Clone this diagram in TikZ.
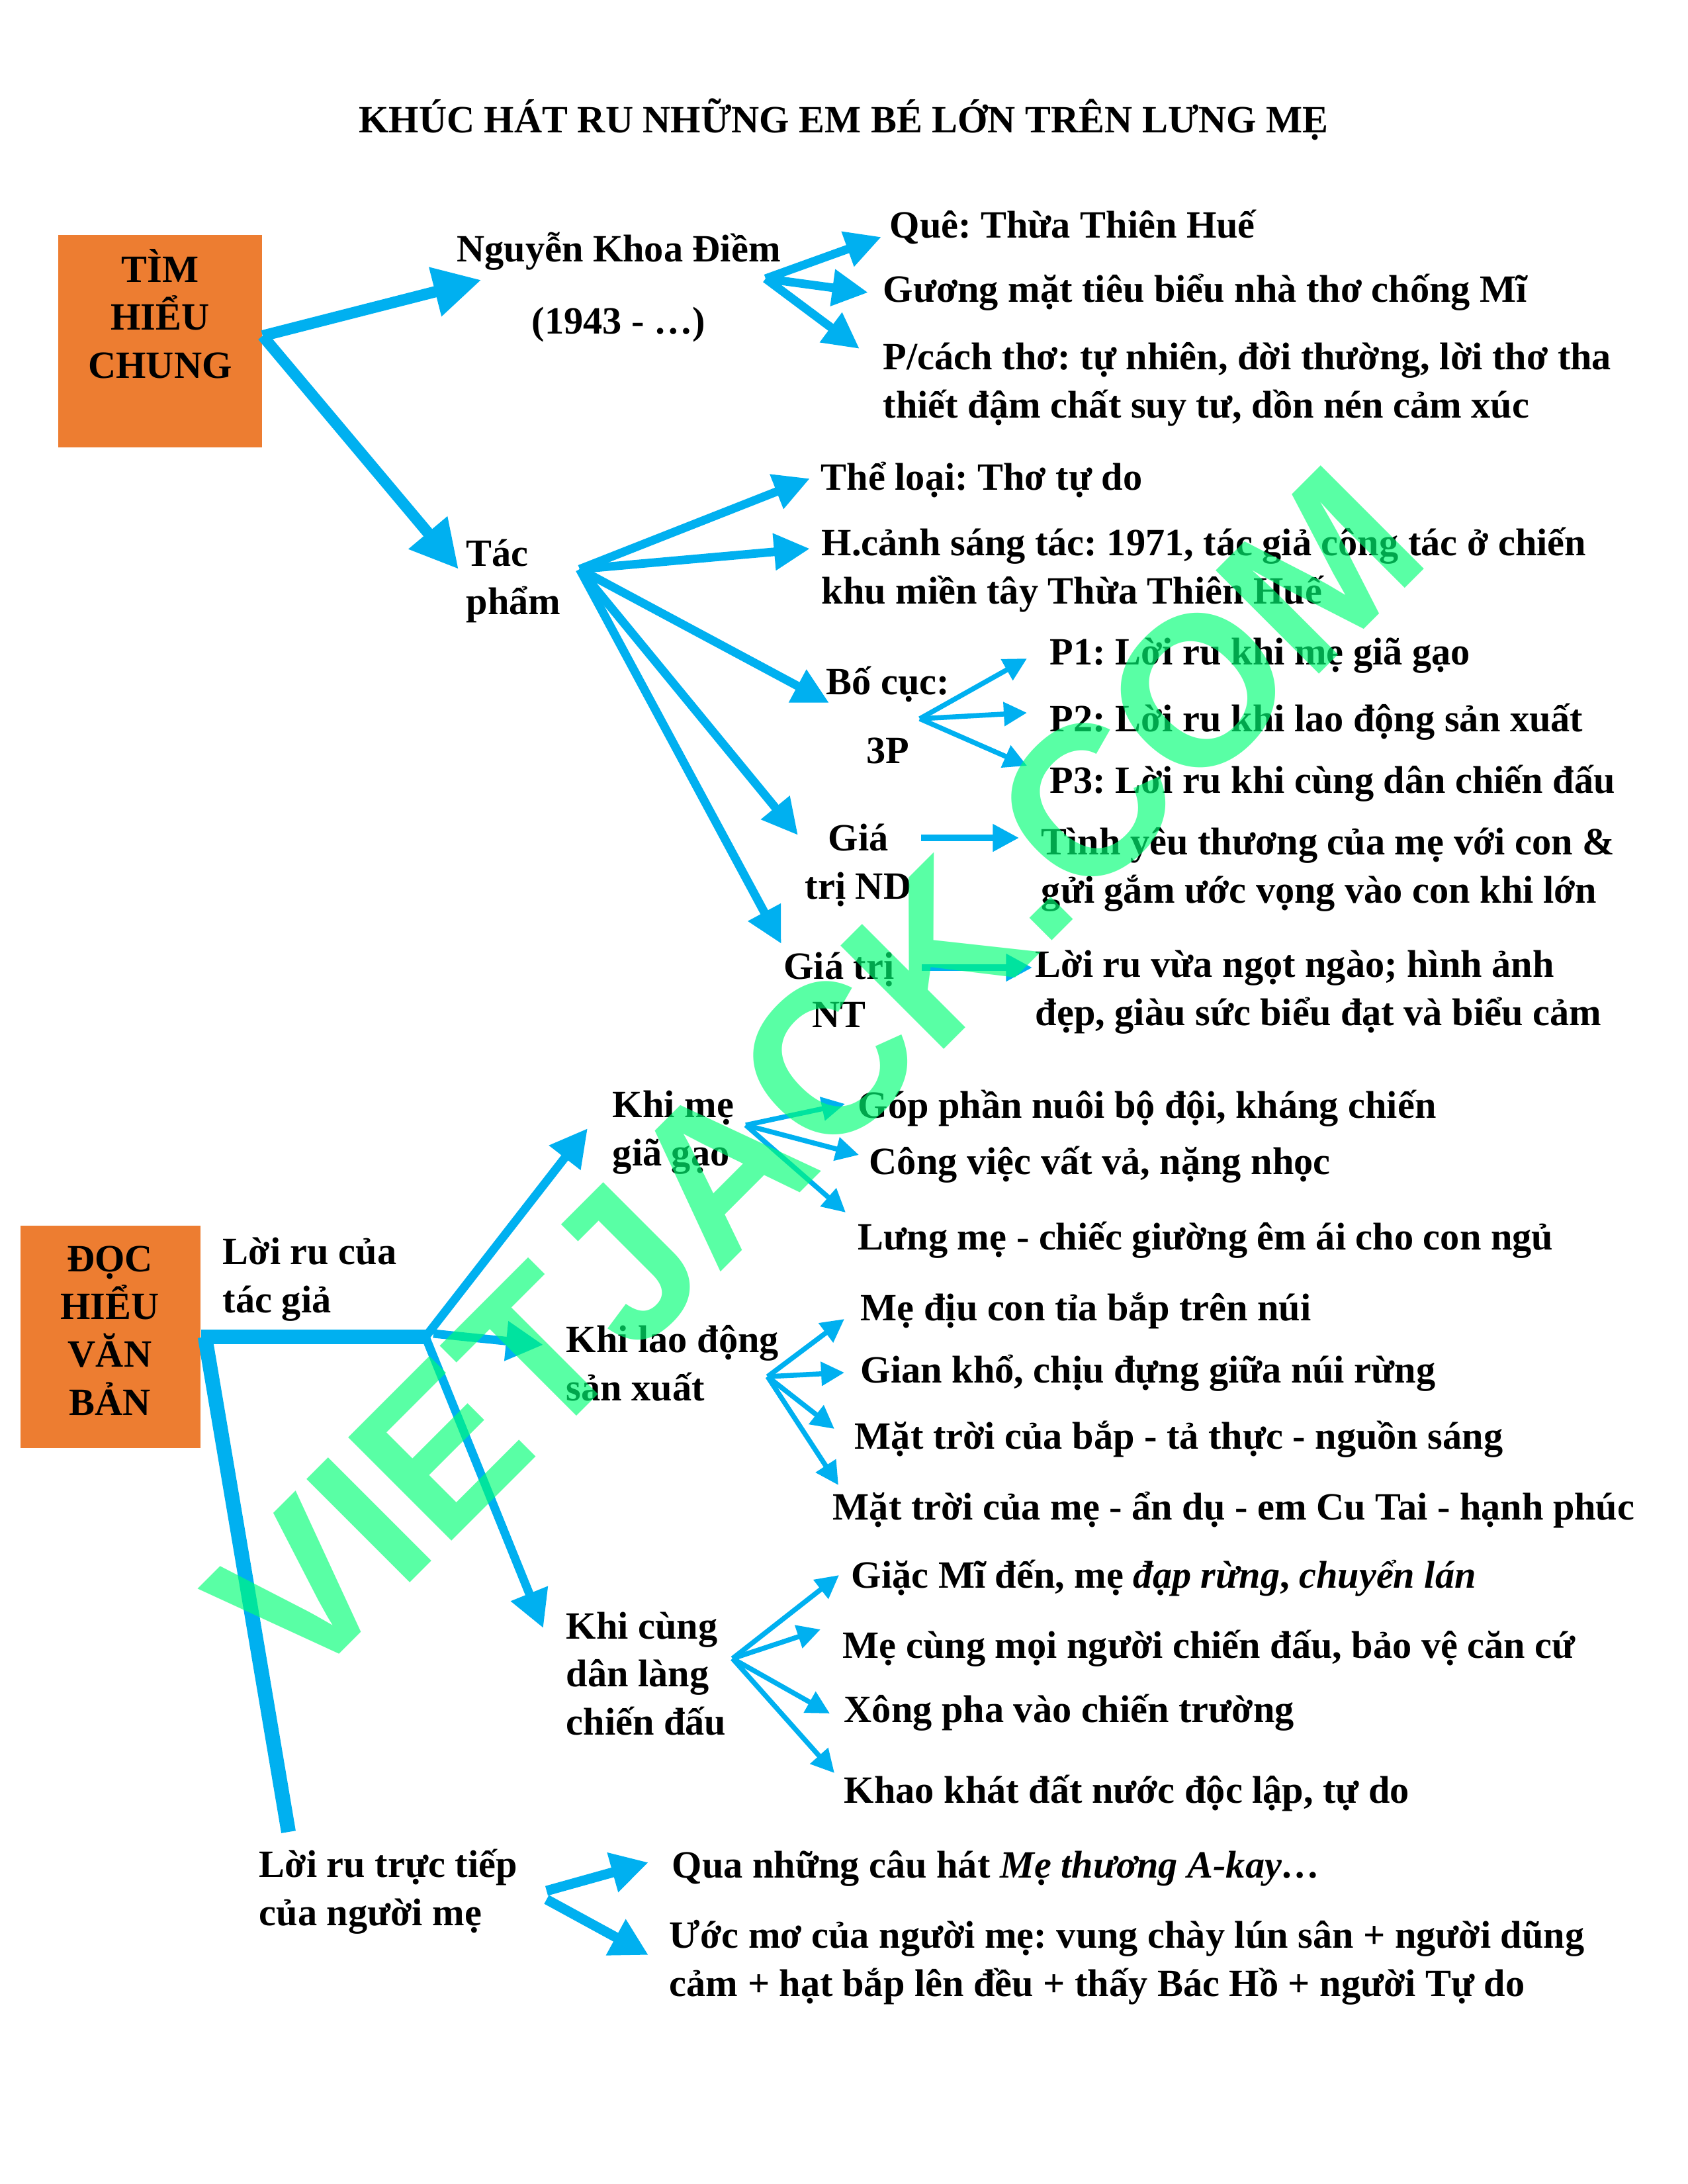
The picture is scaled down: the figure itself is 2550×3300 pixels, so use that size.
\documentclass[tikz,border=0pt]{standalone}
\usepackage{fontspec}
\setmainfont{Liberation Serif}
\newfontfamily\wmfont{Liberation Sans}
\usetikzlibrary{arrows.meta}
\definecolor{arrblue}{HTML}{00B0F0}
\definecolor{boxorange}{HTML}{ED7D31}
\definecolor{wmgreen}{RGB}{0,255,117}
\frenchspacing
\tikzset{
  every node/.style={font=\fontsize{14pt}{17.3pt}\selectfont\bfseries},
  txt/.style={inner sep=0pt, anchor=base west, align=left},
  ctxt/.style={inner sep=0pt, anchor=base, align=center},
  orangebox/.style={fill=boxorange, inner sep=0pt},
  bigarr/.style={draw=arrblue, line width=4.1pt, -{Triangle[length=17.3pt,width=17.3pt]}},
  medarr/.style={draw=arrblue, line width=3.1pt, -{Triangle[length=13pt,width=12.7pt]}},
  boxarr/.style={draw=arrblue, line width=3.1pt, -{Triangle[length=13.5pt,width=13.7pt]}},
  lrarr/.style={draw=arrblue, line width=3.6pt, -{Triangle[length=13.5pt,width=14pt]}},
  midarr/.style={draw=arrblue, line width=2.2pt, -{Triangle[length=9.5pt,width=9.5pt]}},
  smallarr/.style={draw=arrblue, line width=1.8pt, -{Triangle[length=8.4pt,width=8.4pt]}},
  thickline/.style={draw=arrblue, line width=5.3pt},
}
\begin{document}
\begin{tikzpicture}[x=0.24pt, y=-0.24pt]
\fill[white] (0,0) rectangle (2550,3300);
\useasboundingbox (0,0) rectangle (2550,3300);

% title
\node[ctxt] (title) at (1275,200) {KHÚC HÁT RU NHỮNG EM BÉ LỚN TRÊN LƯNG MẸ};

% part 1 (multi-line nodes are placed by the baseline of their last line)
\node[orangebox, minimum width=73.92pt, minimum height=77.04pt] (b1) at (242,515.5) {};
\node[ctxt] (b1t) at (242,571) {TÌM\\HIỂU\\CHUNG};
\node[ctxt] (nkd) at (935,504) {Nguyễn Khoa Điềm\\[8.64pt](1943 - …)};
\node[txt] (tp) at (704,928) {Tác\\phẩm};
\node[txt] (que) at (1344,359) {Quê: Thừa Thiên Huế};
\node[txt] (guong) at (1334,456) {Gương mặt tiêu biểu nhà thơ chống Mĩ};
\node[txt] (pcach) at (1334,631) {P/cách thơ: tự nhiên, đời thường, lời thơ tha\\thiết đậm chất suy tư, dồn nén cảm xúc};
\node[txt] (theloai) at (1240,740) {Thể loại: Thơ tự do};
\node[txt] (hcanh) at (1241,912) {H.cảnh sáng tác: 1971, tác giả công tác ở chiến\\khu miền tây Thừa Thiên Huế};
\node[ctxt] (bocuc) at (1342,1153) {Bố cục:\\[7.44pt]3P};
\node[txt] (p1) at (1586,1004) {P1: Lời ru khi mẹ giã gạo};
\node[txt] (p2) at (1586,1105) {P2: Lời ru khi lao động sản xuất};
\node[txt] (p3) at (1586,1198) {P3: Lời ru khi cùng dân chiến đấu};
\node[ctxt] (giand) at (1297,1358) {Giá\\trị ND};
\node[txt] (tinhyeu) at (1573,1364) {Tình yêu thương của mẹ với con \&\\gửi gắm ước vọng vào con khi lớn};
\node[ctxt] (giant) at (1268,1552) {Giá trị\\NT};
\node[txt] (loiru) at (1564,1549) {Lời ru vừa ngọt ngào; hình ảnh\\đẹp, giàu sức biểu đạt và biểu cảm};

\coordinate (o1) at ([shift={(0,-8)}]b1.east);
\coordinate (o2) at (1157,421);
\coordinate (o3) at (876,860);
\coordinate (o4) at (1390,1086);

\draw[bigarr] (o1) -- ([shift={(38,-81)}]nkd.base west);
\draw[bigarr] (o1) -- ([shift={(-11,-68)}]tp.base west);
\draw[medarr] (o2) -- ([shift={(-12,-1)}]que.base west);
\draw[medarr] (o2) -- ([shift={(-22,-14)}]guong.base west);
\draw[medarr] (o2) -- ([shift={(-35,-104)}]pcach.base west);
\draw[medarr] (o3) -- ([shift={(-16,-17)}]theloai.base west);
\draw[medarr] (o3) -- ([shift={(-17,-83)}]hcanh.base west);
\draw[medarr] (o3) -- ([shift={(5,-91)}]bocuc.base west);
\draw[medarr] (o3) -- ([shift={(-10,-96)}]giand.base west);
\draw[medarr] (o3) -- ([shift={(-3,-126)}]giant.base west);
\draw[smallarr] (o4) -- ([shift={(-34,-9)}]p1.base west);
\draw[smallarr] (o4) -- ([shift={(-34,-28)}]p2.base west);
\draw[smallarr] (o4) -- ([shift={(-34,-41)}]p3.base west);
\draw[midarr] ([shift={(14,-92)}]giand.base east) -- ([shift={(-33,-98)}]tinhyeu.base west);
\draw[midarr] ([shift={(41,-90)}]giant.base east) -- ([shift={(-4,-87)}]loiru.base west);

% part 2
\node[orangebox, minimum width=65.28pt, minimum height=80.64pt] (b2) at (167,2020) {};
\node[ctxt] (b2t) at (166,2138) {ĐỌC\\HIỂU\\VĂN\\BẢN};
\node[txt] (lrc) at (336,1983) {Lời ru của\\tác giả};
\node[txt] (khime) at (925,1761) {Khi mẹ\\giã gạo};
\node[txt] (gop) at (1296,1689) {Góp phần nuôi bộ đội, kháng chiến};
\node[txt] (cong) at (1313,1774) {Công việc vất vả, nặng nhọc};
\node[txt] (lung) at (1296,1888) {Lưng mẹ - chiếc giường êm ái cho con ngủ};
\node[txt] (khild) at (855,2116) {Khi lao động\\sản xuất};
\node[txt] (diu) at (1300,1995) {Mẹ địu con tỉa bắp trên núi};
\node[txt] (giankho) at (1300,2089) {Gian khổ, chịu đựng giữa núi rừng};
\node[txt] (mtbap) at (1291,2189) {Mặt trời của bắp - tả thực - nguồn sáng};
\node[txt] (mtme) at (1258,2296) {Mặt trời của mẹ - ẩn dụ - em Cu Tai - hạnh phúc};
\node[txt] (khicung) at (855,2621) {Khi cùng\\dân làng\\chiến đấu};
\node[txt] (giac) at (1286,2399) {Giặc Mĩ đến, mẹ \textit{đạp rừng}, \textit{chuyển lán}};
\node[txt] (mecung) at (1273,2505) {Mẹ cùng mọi người chiến đấu, bảo vệ căn cứ};
\node[txt] (xong) at (1275,2602) {Xông pha vào chiến trường};
\node[txt] (khao) at (1275,2724) {Khao khát đất nước độc lập, tự do};
\node[txt] (lrtt) at (391,2909) {Lời ru trực tiếp\\của người mẹ};
\node[txt] (qua) at (1015,2837) {Qua những câu hát \textit{Mẹ thương A-kay…}};
\node[txt] (uoc) at (1011,3016) {Ước mơ của người mẹ: vung chày lún sân + người dũng\\cảm + hạt bắp lên đều + thấy Bác Hồ + người Tự do};

\coordinate (o6) at (643,2020);
\coordinate (o5) at (1127,1700);
\coordinate (o7) at (1160,2080);
\coordinate (o8) at (1107,2506);
\coordinate (o9) at (826,2857);
\coordinate (o10) at (826,2870);

\draw[thickline] (b2.east) -- (o6);
\draw[thickline] ([shift={(6,0)}]b2.east) -- ([shift={(45,-141)}]lrtt.base west);
\draw[boxarr] (o6) -- ([shift={(-37,-56)}]khime.base west);
\draw[boxarr] ([shift={(12,-5)}]o6) -- ([shift={(-34,-84)}]khild.base west);
\draw[boxarr] (o6) -- ([shift={(-34,-161)}]khicung.base west);

\draw[smallarr] (o5) -- ([shift={(-19,-21)}]gop.base west);
\draw[smallarr] (o5) -- ([shift={(-15,-29)}]cong.base west);
\draw[smallarr] (o5) -- ([shift={(-18,-56)}]lung.base west);
\draw[smallarr] (o7) -- ([shift={(-24,-2)}]diu.base west);
\draw[smallarr] (o7) -- ([shift={(-24,-15)}]giankho.base west);
\draw[smallarr] (o7) -- ([shift={(-30,-30)}]mtbap.base west);
\draw[smallarr] (o7) -- ([shift={(9,-52)}]mtme.base west);
\draw[smallarr] (o8) -- ([shift={(-18,-19)}]giac.base west);
\draw[smallarr] (o8) -- ([shift={(-33,-43)}]mecung.base west);
\draw[smallarr] (o8) -- ([shift={(-21,-13)}]xong.base west);
\draw[smallarr] (o8) -- ([shift={(-14,-45)}]khao.base west);
\draw[lrarr] (o9) -- ([shift={(-35,-23)}]qua.base west);
\draw[lrarr] (o10) -- ([shift={(-31,-62)}]uoc.base west);

% watermark
\node[rotate=45, text=wmgreen, text opacity=0.65, inner sep=0pt, font=\wmfont\bfseries\fontsize{77pt}{80pt}\selectfont] (wm) at (1232,1623) {VIETJACK.COM};
\end{tikzpicture}
\end{document}
